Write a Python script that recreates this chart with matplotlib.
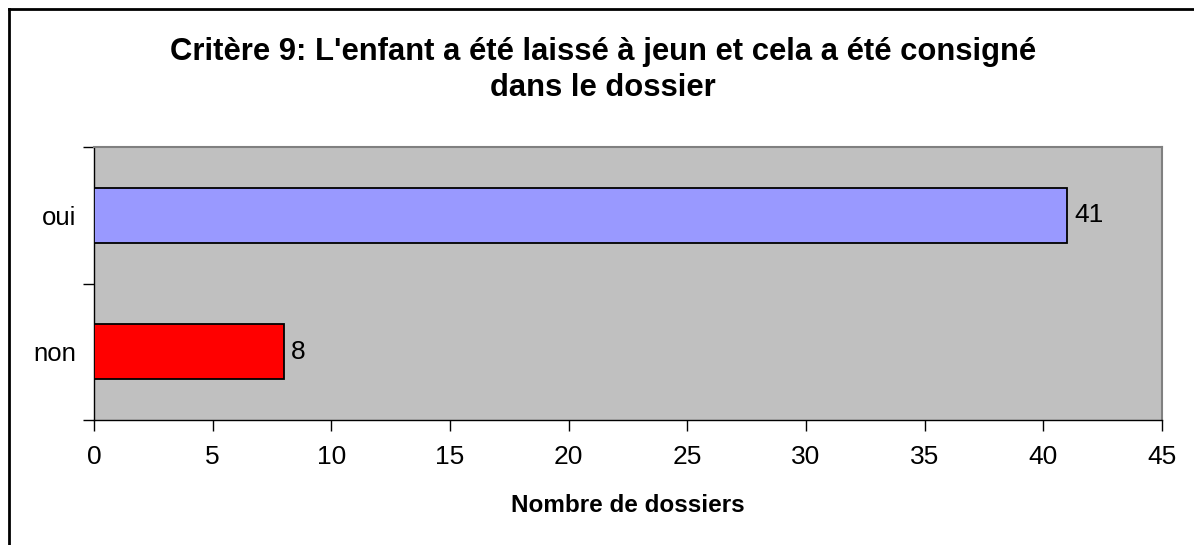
import matplotlib
matplotlib.use("Agg")
import matplotlib.pyplot as plt
from matplotlib.lines import Line2D

categories = ["non", "oui"]
values = [8, 41]
colors = ["#FF0000", "#9999FF"]
xticks = [0, 5, 10, 15, 20, 25, 30, 35, 40, 45]
title_lines = ["Critère 9: L'enfant a été laissé à jeun et cela a été consigné",
               "dans le dossier"]
xlabel = "Nombre de dossiers"

plt.rcParams['font.family'] = ['Liberation Sans', 'DejaVu Sans']

W, H = 1194, 545
fig = plt.figure(figsize=(W/100, H/100), dpi=100)

# outer chart border (top & left visible)
fig.add_artist(Line2D([9/W, 9/W], [0, 1-9/H], color="black", lw=2, transform=fig.transFigure))
fig.add_artist(Line2D([9/W, 1], [1-9/H, 1-9/H], color="black", lw=2, transform=fig.transFigure))

ax = fig.add_axes([94/W, 1-420/H, (1162-94)/W, (420-147)/H])
ax.set_facecolor("#C0C0C0")
ypos = list(range(len(categories)))
ax.barh(ypos, values, height=0.40, color=colors, edgecolor="black", linewidth=1.3, zorder=3)
for y, v in zip(ypos, values):
    ax.text(v + 0.3, y, str(v), va="center", ha="left", fontsize=19, zorder=4)

ax.set_xlim(0, 45)
ax.set_ylim(-0.5, len(categories) - 0.5)
ax.set_xticks(xticks)
ax.set_xticklabels([str(t) for t in xticks], fontsize=19)
ax.set_yticks(ypos)
ax.set_yticklabels(categories, fontsize=18.5)
ax.set_yticks([-0.5, 0.5, 1.5], minor=True)
ax.tick_params(axis="y", which="major", length=0, pad=13)
ax.tick_params(axis="y", which="minor", length=8, width=1, direction="out")
ax.tick_params(axis="x", which="major", length=8, width=1, direction="out", pad=10)

for s in ["top", "right"]:
    ax.spines[s].set_color("#808080")
    ax.spines[s].set_linewidth(1.5)
for s in ["left", "bottom"]:
    ax.spines[s].set_color("black")
    ax.spines[s].set_linewidth(1)

ax.set_xlabel(xlabel, fontsize=17.5, fontweight="bold", labelpad=18)
fig.text(603/W, 1-52/H, title_lines[0], ha="center", va="center", fontsize=22.3, fontweight="bold")
fig.text(603/W, 1-88/H, title_lines[1], ha="center", va="center", fontsize=22.3, fontweight="bold")

fig.savefig("out.png", dpi=100)
